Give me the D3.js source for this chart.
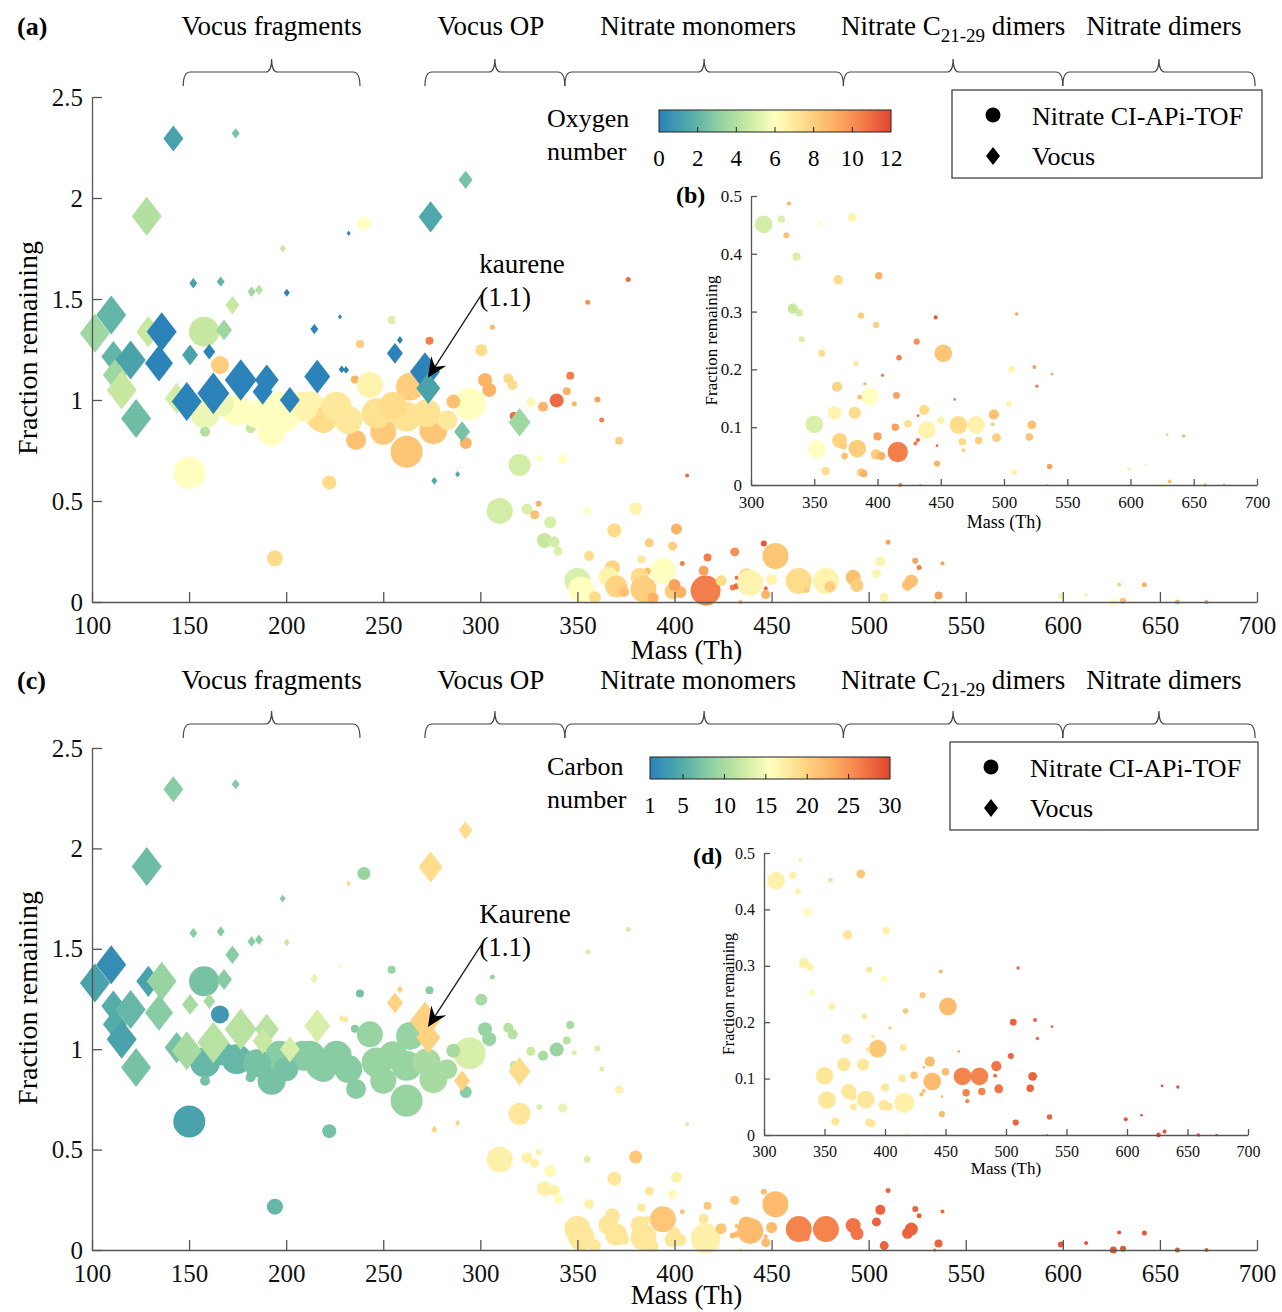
<!DOCTYPE html>
<html><head><meta charset="utf-8">
<script src="https://cdn.jsdelivr.net/npm/d3@7"></script>
<style>
body{margin:0;background:#fff}
svg{font-family:"Liberation Serif","Times New Roman",serif}
</style>
</head><body>
<svg id="chart" width="1282" height="1312"></svg>
<script>
// ---------------- DATA ----------------
// Nitrate CI-APi-TOF (circles): mass (Th), fraction remaining, marker size, oxygen number, carbon number
const nitrateMass = [240,254.3,273.8,238,306.2,300.5,157.7,165.9,158.2,158.2,181.7,192.5,174.5,196.8,217.4,212.3,150.1,222.2,194.2,235.4,
  243.1,263.8,302.4,304.6,314.4,316.6,294.5,286.1,292.5,317.2,320.2,219.1,236,232,250,246.6,262,262,275.8,272.4,
  208.8,226,326,332.3,339.3,344.5,346.3,348.4,360.3,362.5,371.5,330.4,342.4,406.5,376.2,355.3,185,200,255,283,167,
  310,324,330,328,336,333,338,340,355,380,369,401,387,399,356,383,431,446,452,417,404,390,368,394,386,415,366,382,
  350,352,359,370,373,374,384,387,389,399,403,400,414,416,418,424,432,430,432,434,437,439,447,447,450,461,464,467,468,
  478,480,491,492,494,504,506,508,510,520,522,524,526,534,536,538,599,612,626,629,631,642,659,674];
const nitrateFrac = [1.875,1.396,1.293,1.277,1.36,1.246,1.338,1.173,0.934,0.843,0.86,0.843,0.95,0.967,0.917,0.967,0.64,0.592,0.216,1.102,
  1.074,1.066,1.099,1.05,1.107,1.074,0.98,0.992,0.787,0.921,0.678,0.901,0.802,0.901,0.843,0.934,0.917,0.744,0.851,0.934,
  0.967,0.967,0.99,0.967,0.998,1.043,1.12,0.982,1.003,0.901,0.798,0.711,0.707,0.626,1.597,1.484,0.93,0.9,0.97,0.9,0.98,
  0.451,0.46,0.487,0.432,0.395,0.305,0.298,0.252,0.452,0.463,0.355,0.362,0.293,0.277,0.228,0.21,0.248,0.29,0.228,0.22,0.19,0.175,0.17,0.153,0.152,0.155,0.125,0.125,
  0.105,0.062,0.024,0.077,0.068,0.05,0.063,0.022,0.02,0.053,0.05,0.084,0.1,0.057,0,0.106,0.12,0.072,0.078,0,0.13,0.095,0.068,0.037,0.112,0.148,0.104,0.075,0.06,
  0.104,0.077,0.105,0.122,0.082,0.14,0.2,0.022,0.296,0.083,0.104,0.204,0.171,0,0.032,0.192,0.028,0.035,0,0.087,0.006,0.085,0,0];
const nitrateSize = [6.5,4,4,4,2.5,6,15,9,15,5,5,14,15,15,14,15,16,7,8,4,
  13,14,7,7,5,5,16,7,6,4,11,13,10,14,13,15,15,16,14,14,
  15,15,4.5,5,7,4,4,2.5,3,2.5,4,3,4.5,2,2.5,2.5,14,12,14,10,12,
  13,5.5,3,4.5,6,7.5,5.5,4.5,3.5,6.5,7,5.5,4.5,4.5,5,4,4.5,3,13,4,2.5,2.5,7.5,13,3.5,5,10,9,
  13,13,6,11,5.5,5,13,6,5.5,8,6,6,5.5,15,3,5.5,2,3,3,2,7.5,13,2,4.5,5.5,2,13,5.5,3,
  13,5.5,3,7.5,6.5,4.5,5,4.5,2.5,5.5,6.5,3,2.5,1.5,4,2,3,2,3.5,2,3,2.5,2.5,2];
const nitrateOxygen = [6,5,10.5,8,9,7.5,4.5,8,5.5,4,4.5,6,6,6,7.5,6.5,6,7.5,7.5,9,
  6.5,8,9,9,7.5,7.5,6,8.5,9,11,4.8,7.5,8.5,7,8.2,7.3,7.2,8.3,8.3,7.2,
  6.5,7,6.3,9,11,9,10.5,9,9.5,10.5,8,6,6,11,11,10,6,6,7.5,7,5.5,
  4.8,5,9,8.5,5,4.5,4.8,5,6,6.5,7.5,9,8,8,7.5,7,10,11.5,8.3,10.5,10.5,9,7.8,6,8.5,9.5,6.5,7.5,
  5,6,7.5,7.8,8,8.5,8,8,9,8,9,9.5,9.5,10.5,10.5,7.5,11,10.5,11,9,7.5,6.5,11,9,6.5,10.5,7.5,7.5,8,
  6.5,8,8,8.5,8,6.5,6.5,6.5,9.5,8.5,8.5,9.5,10.5,8,9.5,9.5,5.5,5.5,6,8,8.5,9,9,9.5];
const nitrateCarbon = [9,9,8,7,9,10,7,3,6,7,7,7,6,8,8,8,4,7,6,8,
  9,9,9,9,11,11,13,10,8,12,18,8,8,8,9,9,9,9,10,10,
  8,8,12,10,9,11,10,13,13,13,17,13,14,13,13,13,7,7,9,10,6,
  17,17,17,17,16,17,17,16,13,21,18,17,18,16,17,18,21,22,22,21,21,18,18,21,18,18,18,18,
  18,18,18,18,18,18,18,18,18,18,18,18,18,17,17,21,22,22,22,17,22,22,22,22,22,24,26,26,26,
  26,26,27,27,27,28,28,28,28,28,28,28,28,28,28,28,29,29,29,29,29,29,29,29];

// Vocus (diamonds)
const vocusMass = [141.9,174,128.2,274.4,292.4,198.2,152.2,166.3,182.2,186,172.3,109.9,101.5,111,119.9,129,111.8,115.3,122.7,168,
  150.5,143.6,290.6,320.2,276.3,288.3,232.2,200.3,227.7,214.5,256,258.6,135.9,134.5,160.4,148.8,162.5,176.6,190,187.9,
  201.9,216,228.6,230.8,271.5,273.2];
const vocusFrac = [2.295,2.32,1.91,1.907,2.09,1.75,1.578,1.586,1.536,1.545,1.47,1.421,1.33,1.215,1.198,1.338,1.124,1.05,0.909,1.347,
  1.223,1.008,0.843,0.89,0.6,0.632,1.825,1.531,1.412,1.351,1.231,1.297,1.338,1.182,1.239,0.992,1.033,1.099,1.099,1.041,
  1.0,1.116,1.152,1.149,1.14,1.058];
const vocusSize = [10,4,15,12,7,3,4,4,4,4,7,15,15,12,15,12,12,15,15,8,
  8,12,8,11,3,2.5,2,3,2,4,8,3,15,14,6,15,16,16,12,10,
  10,13,3,3,15,12];
const vocusOxygen = [1.2,2.5,4,1.5,2.5,4.5,1.2,2,3.5,4,4.5,2,3.5,2,1.3,4.5,3.5,4.5,2.3,3.5,
  1.3,4.8,2.5,3.5,1.5,1.5,0,0,0,0,0,0,0,0,0,0,0,0,0,0,
  0,0,0,0,0,1.3];
const vocusCarbon = [8,8,6.5,19,19,8,8,8,8,8,8,2,4,5,6,4,5,4,7,8,
  10,7,20,19,20,20,20,12,15,14,20,20,9,8,10,10,11,11,11,12,
  13,13,18,18,20,20];

// Axis ticks and labels
const massTicks = [100,150,200,250,300,350,400,450,500,550,600,650,700];
const fracTicks = [0,0.5,1,1.5,2,2.5];
const insetMassTicks = [300,350,400,450,500,550,600,650,700];
const insetFracTicks = [0,0.1,0.2,0.3,0.4,0.5];
const oxygenTicks = [0,2,4,6,8,10,12];
const carbonTicks = [1,5,10,15,20,25,30];
// Mass ranges of the groups marked with braces
const groupNames = ["Vocus fragments","Vocus OP","Nitrate monomers","Nitrate C|21-29| dimers","Nitrate dimers"];
const groupFrom = [147,271.5,343.5,487,600];
const groupTo   = [238,343.5,487,600,699];
const legendLabels = ["Nitrate CI-APi-TOF","Vocus"];

// ---------------- DRAWING ----------------
const svg = d3.select("#chart");
const stopsC = ["#2b83ba","#4fa8a9","#8ccfa3","#c6e8a0","#ffffbf","#fedc8a","#fdb365","#f47e4b","#e0452f"];
const cmap = d3.scaleLinear().domain(d3.range(9).map(i=>i/8)).range(stopsC).interpolate(d3.interpolateRgb).clamp(true);

const nitrate = nitrateMass.map((m,i)=>({m,f:nitrateFrac[i],s:nitrateSize[i],o:nitrateOxygen[i],c:nitrateCarbon[i],k:"n"}));
const vocus = vocusMass.map((m,i)=>({m,f:vocusFrac[i],s:vocusSize[i],o:vocusOxygen[i],c:vocusCarbon[i],k:"v"}));
const allPts = nitrate.concat(vocus);

const panels = [
 {tag:"(a)", hdrY:35, brY:72, xr:[92,1257], yr:[602,97], xlabY:659, ylabX:37, ylabY:348, kaur:"kaurene",
  ins:{xr:[751,1257], yr:[485,196], tag:"(b)", tagX:676, tagY:203, ylabX:717, xlabY:528, fs:17},
  cb:{x:659,y:110,w:232,h:22,title:["Oxygen","number"],tx:547,t1:127,t2:160,lblY:166,dom:[0,12],ticks:oxygenTicks,key:"o"},
  leg:{x:952,y:90,w:310,h:88}},
 {tag:"(c)", hdrY:689, brY:724, xr:[92,1257], yr:[1250,748], xlabY:1304, ylabX:37, ylabY:998, kaur:"Kaurene",
  ins:{xr:[764,1248], yr:[1135,853], tag:"(d)", tagX:693, tagY:864, ylabX:734, xlabY:1174, fs:16},
  cb:{x:650,y:757,w:240,h:22,title:["Carbon","number"],tx:547,t1:775,t2:808,lblY:813,dom:[1,30],ticks:carbonTicks,key:"c"},
  leg:{x:950,y:742,w:308,h:88}}
];

function diamond(cx,cy,w){const h=w*1.3;return `M${cx},${cy-h}L${cx+w},${cy}L${cx},${cy+h}L${cx-w},${cy}Z`;}

function styleAxis(g,fs){
  g.select(".domain").attr("stroke","#555").attr("stroke-width",1.3);
  g.selectAll(".tick line").attr("stroke","#555").attr("stroke-width",1.3);
  g.selectAll(".tick text").attr("fill","#111").attr("font-size",fs).attr("font-family","Liberation Serif, serif");
}

function drawPoints(g,x,y,colorOf,scale){
  g.selectAll("circle.pt").data(nitrate).join("circle").attr("class","pt")
    .attr("cx",d=>x(d.m)).attr("cy",d=>y(d.f)).attr("r",d=>d.s*scale)
    .attr("fill",d=>colorOf(d));
  g.selectAll("path.pt").data(vocus).join("path").attr("class","pt")
    .attr("d",d=>diamond(x(d.m),y(d.f),d.s*scale)).attr("fill",d=>colorOf(d));
}

panels.forEach((P,pi)=>{
  const g = svg.append("g");
  const x = d3.scaleLinear().domain([100,700]).range(P.xr);
  const y = d3.scaleLinear().domain([0,2.5]).range(P.yr);
  const cbScale = t=>cmap((t-P.cb.dom[0])/(P.cb.dom[1]-P.cb.dom[0]));
  const colorOf = d=>cbScale(d[P.cb.key]);

  // panel tag
  g.append("text").attr("x",17).attr("y",P.hdrY).attr("font-size",26).attr("font-weight","bold").text(P.tag);

  // group headers and braces
  groupNames.forEach((name,i)=>{
    const x0=x(groupFrom[i]), x1=x(groupTo[i]), cx=(x0+x1)/2, yb=P.brY;
    g.append("path").attr("fill","none").attr("stroke","#444").attr("stroke-width",1.2)
      .attr("d",`M${x0},${yb+14}Q${x0},${yb} ${x0+7},${yb}L${cx-6},${yb}Q${cx},${yb} ${cx},${yb-13}Q${cx},${yb} ${cx+6},${yb}L${x1-7},${yb}Q${x1},${yb} ${x1},${yb+14}`);
    const t = g.append("text").attr("x",cx-(i===1?4:i===2?6:i===4?-5:0)).attr("y",P.hdrY).attr("text-anchor","middle").attr("font-size",27);
    const parts = name.split("|");
    if(parts.length===1){t.text(name);}
    else{
      t.append("tspan").text(parts[0]);
      t.append("tspan").attr("font-size",19).attr("dy",7).text(parts[1]);
      t.append("tspan").attr("dy",-7).text(parts[2]);
    }
  });

  // main points
  const pg = g.append("g");
  drawPoints(pg,x,y,colorOf,1);

  // main axes
  const gx = g.append("g").attr("transform",`translate(0,${P.yr[0]})`)
    .call(d3.axisBottom(x).tickValues(massTicks).tickSize(-10).tickSizeOuter(0).tickPadding(14).tickFormat(d=>String(d)));
  styleAxis(gx,25);
  const gy = g.append("g").attr("transform",`translate(${P.xr[0]},0)`)
    .call(d3.axisLeft(y).tickValues(fracTicks).tickSize(-10).tickSizeOuter(0).tickPadding(9).tickFormat(d=>String(d)));
  styleAxis(gy,25);
  g.append("text").attr("x",(P.xr[0]+P.xr[1])/2+12).attr("y",P.xlabY).attr("text-anchor","middle").attr("font-size",27).text("Mass (Th)");
  g.append("text").attr("transform",`translate(${P.ylabX},${P.ylabY}) rotate(-90)`).attr("text-anchor","middle").attr("font-size",28).text("Fraction remaining");

  // kaurene annotation
  const sx=x(300.5), sy=y(1.52), tx=x(273), ty=y(1.11);
  const dx=tx-sx, dy=ty-sy, L=Math.hypot(dx,dy), ux=dx/L, uy=dy/L, nx=-uy, ny=ux;
  g.append("line").attr("x1",sx).attr("y1",sy).attr("x2",tx-ux*10).attr("y2",ty-uy*10).attr("stroke","#222").attr("stroke-width",1.4);
  const al=20, aw=9;
  g.append("path").attr("fill","#000")
    .attr("d",`M${tx},${ty}L${tx-ux*al+nx*aw},${ty-uy*al+ny*aw}L${tx-ux*(al-7)},${ty-uy*(al-7)}L${tx-ux*al-nx*aw},${ty-uy*al-ny*aw}Z`);
  g.append("text").attr("x",x(299.5)).attr("y",y(1.63)).attr("font-size",27).text(P.kaur);
  g.append("text").attr("x",x(299.5)).attr("y",y(1.465)).attr("font-size",27).text("(1.1)");

  // colorbar
  const C = P.cb;
  const gid = "grad"+pi;
  const grad = svg.append("defs").append("linearGradient").attr("id",gid);
  d3.range(0,1.0001,0.05).forEach(t=>grad.append("stop").attr("offset",t).attr("stop-color",cmap(t)));
  g.append("rect").attr("x",C.x).attr("y",C.y).attr("width",C.w).attr("height",C.h).attr("fill",`url(#${gid})`).attr("stroke","#222").attr("stroke-width",1);
  const cbx = d3.scaleLinear().domain(C.dom).range([C.x,C.x+C.w]);
  C.ticks.forEach(t=>{
    if(t!==C.dom[0] && t!==C.dom[1]) g.append("line").attr("x1",cbx(t)).attr("x2",cbx(t)).attr("y1",C.y+C.h).attr("y2",C.y+C.h-5).attr("stroke","#222");
    g.append("text").attr("x",cbx(t)).attr("y",C.lblY).attr("text-anchor","middle").attr("font-size",23).text(t);
  });
  g.append("text").attr("x",C.tx).attr("y",C.t1).attr("font-size",26).text(C.title[0]);
  g.append("text").attr("x",C.tx).attr("y",C.t2).attr("font-size",26).text(C.title[1]);

  // legend
  const Lg = P.leg;
  g.append("rect").attr("x",Lg.x).attr("y",Lg.y).attr("width",Lg.w).attr("height",Lg.h).attr("fill","#fff").attr("stroke","#333").attr("stroke-width",1.2);
  g.append("circle").attr("cx",Lg.x+41).attr("cy",Lg.y+25).attr("r",7.5).attr("fill","#000");
  g.append("path").attr("d",diamond(Lg.x+41,Lg.y+66,7)).attr("fill","#000");
  g.append("text").attr("x",Lg.x+80).attr("y",Lg.y+35).attr("font-size",26).text(legendLabels[0]);
  g.append("text").attr("x",Lg.x+80).attr("y",Lg.y+75).attr("font-size",26).text(legendLabels[1]);

  // inset
  const I = P.ins;
  const ix = d3.scaleLinear().domain([300,700]).range(I.xr);
  const iy = d3.scaleLinear().domain([0,0.5]).range(I.yr);
  const ig = g.append("g");
  const sub = allPts.filter(d=>d.m>=300 && d.f<=0.5);
  ig.selectAll("circle").data(sub.filter(d=>d.k==="n")).join("circle")
    .attr("cx",d=>ix(d.m)).attr("cy",d=>iy(d.f)).attr("r",d=>d.s*0.68).attr("fill",colorOf);
  const igx = ig.append("g").attr("transform",`translate(0,${I.yr[0]})`)
    .call(d3.axisBottom(ix).tickValues(insetMassTicks).tickSize(-6).tickSizeOuter(0).tickPadding(11).tickFormat(d=>String(d)));
  styleAxis(igx,I.fs);
  const igy = ig.append("g").attr("transform",`translate(${I.xr[0]},0)`)
    .call(d3.axisLeft(iy).tickValues(insetFracTicks).tickSize(-6).tickSizeOuter(0).tickPadding(9).tickFormat(d=>String(d)));
  styleAxis(igy,I.fs);
  ig.append("text").attr("x",(I.xr[0]+I.xr[1])/2).attr("y",I.xlabY).attr("text-anchor","middle").attr("font-size",I.fs+1).text("Mass (Th)");
  ig.append("text").attr("transform",`translate(${I.ylabX},${(I.yr[0]+I.yr[1])/2}) rotate(-90)`).attr("text-anchor","middle").attr("font-size",I.fs).text("Fraction remaining");
  ig.append("text").attr("x",I.tagX).attr("y",I.tagY).attr("font-size",24).attr("font-weight","bold").text(I.tag);
});
</script>
</body></html>
